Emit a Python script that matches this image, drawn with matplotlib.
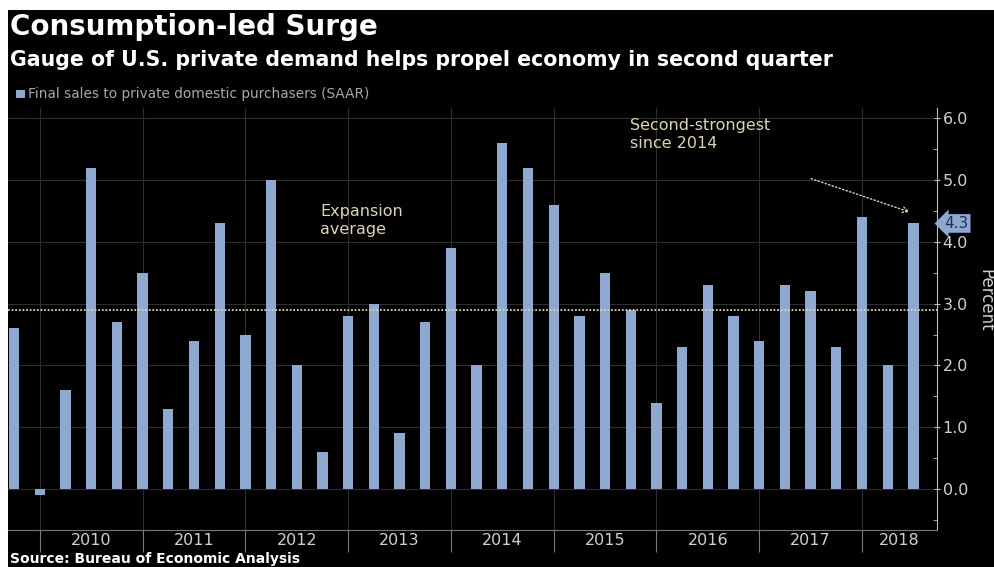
import matplotlib
matplotlib.use("Agg")
from matplotlib import pyplot as plt
from matplotlib.patches import Rectangle
from matplotlib.transforms import blended_transform_factory
import numpy as np

# quarterly data, 2009 Q3 .. 2018 Q2 (bars placed at quarter end)
years = [2009, 2009] + [y for y in range(2010, 2018) for _ in range(4)] + [2018, 2018]
quarters = [3, 4] + [1, 2, 3, 4] * 8 + [1, 2]
sales = [2.6, -0.1,
         1.6, 5.2, 2.7, 3.5,
         1.3, 2.4, 4.3, 2.5,
         5.0, 2.0, 0.6, 2.8,
         3.0, 0.9, 2.7, 3.9,
         2.0, 5.6, 5.2, 4.6,
         2.8, 3.5, 2.9, 1.4,
         2.3, 3.3, 2.8, 2.4,
         3.3, 3.2, 2.3, 4.4,
         2.0, 4.3]
expansion_avg = 2.9
year_ticks = list(range(2010, 2019))
year_labels = [str(y) for y in year_ticks]

bar_col = '#8fa8d0'
note_col = '#ddd3b4'
txt_col = '#d0d0d0'

x = np.array(years) + np.array(quarters) / 4.0

W, H = 995, 567
fig = plt.figure(figsize=(W / 100, H / 100), dpi=100)
fig.patch.set_facecolor('white')
fig.patches.append(Rectangle((8 / W, 0), 1, (H - 10) / H, transform=fig.transFigure,
                             facecolor='black', edgecolor='none', zorder=-10))

ax = fig.add_axes([8 / W, 37 / H, (937 - 8) / W, (530 - 108) / H])
ax.set_facecolor('black')

ax.bar(x, sales, width=0.1, color=bar_col, zorder=3)
ax.axhline(expansion_avg, color=note_col, linestyle=(0, (1, 1)), lw=1.3, zorder=4)

ax.set_xlim(2009.69, 2018.73)
ax.set_ylim(-0.665, 6.17)

# grid
for yv in range(0, 7):
    ax.axhline(yv, color='#2e2e2e', lw=0.8, zorder=1)
for xv in year_ticks:
    ax.axvline(xv, color='#2e2e2e', lw=0.8, zorder=1)

# spines
for s in ['top', 'left']:
    ax.spines[s].set_visible(False)
ax.spines['right'].set_color('#c0c0c0')
ax.spines['bottom'].set_color('#7a7a7a')

# y axis on the right
ax.yaxis.tick_right()
ax.set_yticks(range(0, 7))
ax.set_yticklabels(['%.1f' % v for v in range(0, 7)])
ax.set_yticks(np.arange(-0.5, 6.1, 1.0), minor=True)
ax.tick_params(axis='y', which='major', colors='#c0c0c0', labelcolor=txt_col,
               labelsize=11.5, length=4, direction='inout', pad=2)
ax.tick_params(axis='y', which='minor', colors='#c0c0c0', length=3, direction='in')

# x axis: year separators + centred labels
ax.set_xticks(year_ticks)
ax.set_xticklabels([])
ax.tick_params(axis='x', which='major', colors='#7a7a7a', length=16, width=0.8)
label_pos = [y + 0.5 for y in year_ticks[:-1]] + [2018.36]
ax.set_xticks(label_pos, minor=True)
ax.set_xticklabels(year_labels, minor=True)
ax.tick_params(axis='x', which='minor', length=0, labelcolor=txt_col, labelsize=11.5, pad=2)

# annotations
ax.text(2012.73, 4.62, 'Expansion\naverage', color=note_col, fontsize=11.5,
        va='top', ha='left', linespacing=1.25, zorder=5)
ax.text(2015.74, 6.0, 'Second-strongest\nsince 2014', color=note_col, fontsize=11.5,
        va='top', ha='left', linespacing=1.25, zorder=5)
ax.annotate('', xy=(2018.49, 4.47), xytext=(2017.48, 5.04),
            arrowprops=dict(arrowstyle='->', color=note_col, lw=1.0, linestyle=':'),
            zorder=5)

tr = blended_transform_factory(ax.transAxes, ax.transData)
ax.text(1.008, 4.3, '4.3', transform=tr, color='#1c2f55', fontsize=11, va='center',
        ha='left', bbox=dict(boxstyle='larrow,pad=0.12', facecolor=bar_col,
                             edgecolor='none'), clip_on=False)

fig.text(976 / W, 1 - 300 / H, 'Percent', rotation=270, color=txt_col, fontsize=12,
         ha='left', va='center')

# titles
fig.text(10 / W, 1 - 27 / H, 'Consumption-led Surge', color='white', fontsize=20,
         fontweight='bold', va='center', ha='left')
fig.text(10 / W, 1 - 60 / H,
         'Gauge of U.S. private demand helps propel economy in second quarter',
         color='white', fontsize=14.8, fontweight='bold', va='center', ha='left')
fig.patches.append(Rectangle((16 / W, 1 - 98 / H), 9 / W, 8 / H, transform=fig.transFigure,
                             facecolor=bar_col, edgecolor='none'))
fig.text(28 / W, 1 - 94 / H, 'Final sales to private domestic purchasers (SAAR)',
         color='#a8a8a8', fontsize=9.8, va='center', ha='left')
fig.text(10 / W, 1 - 559 / H, 'Source: Bureau of Economic Analysis', color='white',
         fontsize=10, fontweight='bold', va='center', ha='left')

fig.savefig('out.png', dpi=100, facecolor=fig.get_facecolor())
